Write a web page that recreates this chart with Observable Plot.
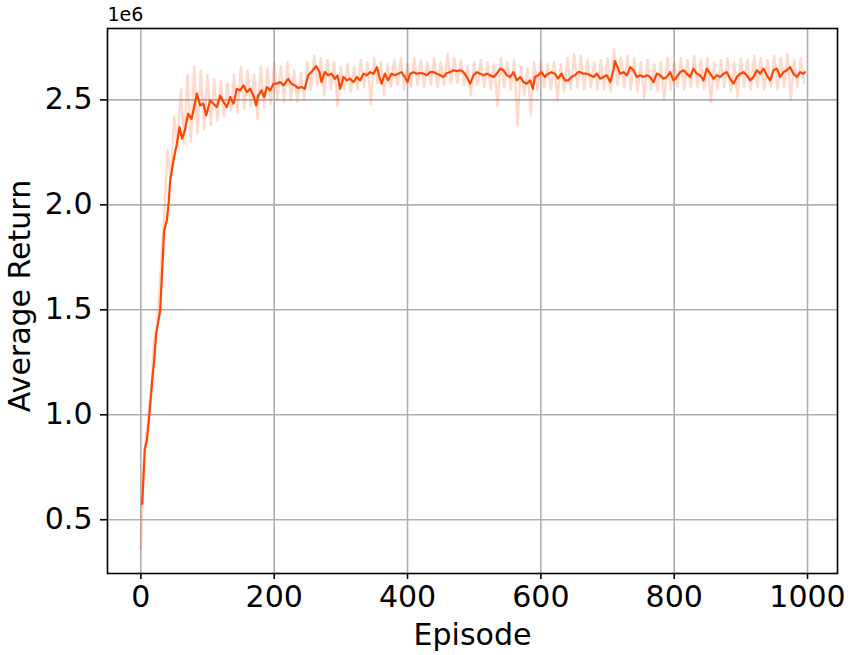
<!DOCTYPE html>
<html>
<head>
<meta charset="utf-8">
<script src="https://cdn.jsdelivr.net/npm/d3@7"></script>
<script src="https://cdn.jsdelivr.net/npm/@observablehq/plot@0.6"></script>
<style>
  html, body { margin: 0; padding: 0; background: white; }
  #chart svg { display: block; }
</style>
</head>
<body>
<div id="chart"></div>
<script>
// Tick values
const xTicks = [0, 200, 400, 600, 800, 1000];
const yTicks = [0.5, 1.0, 1.5, 2.0, 2.5];

// Smoothed average return (in units of 1e6)
const smoothEp = [2,6,9,12,15,17,20,23,29,32,35,39,42,44,49,54,58,62,66,71,76,79,84,89,94,98,104,109,114,119,124,129,134,139,144,149,154,159,164,169,173,176,181,185,189,194,199,204,209,214,221,226,231,236,241,246,251,256,263,268,271,276,281,286,291,295,299,304,309,314,319,324,329,334,339,344,349,354,358,361,366,371,376,381,386,391,396,400,404,409,414,419,424,429,434,439,444,449,454,459,464,469,474,479,484,489,494,499,504,509,514,519,524,529,534,539,544,549,554,559,564,569,574,579,584,588,591,596,601,606,611,616,621,626,631,636,641,646,651,656,659,664,669,674,679,684,689,694,699,704,709,711,715,719,724,729,734,739,744,749,754,759,764,769,774,779,784,789,794,799,804,809,814,819,824,829,834,839,844,849,854,859,864,869,874,879,884,889,894,899,904,909,914,919,924,929,934,939,944,949,954,959,964,969,974,979,984,989,994,996];
const smoothVal = [0.575,0.837,0.877,0.972,1.083,1.163,1.258,1.386,1.497,1.688,1.878,1.926,2.02,2.116,2.212,2.291,2.37,2.315,2.355,2.434,2.41,2.45,2.53,2.474,2.482,2.426,2.497,2.482,2.466,2.52,2.49,2.466,2.513,2.482,2.553,2.545,2.569,2.537,2.553,2.52,2.474,2.52,2.545,2.513,2.561,2.545,2.577,2.577,2.585,2.569,2.6,2.577,2.569,2.556,2.561,2.553,2.617,2.633,2.661,2.633,2.585,2.633,2.617,2.625,2.6,2.617,2.553,2.609,2.593,2.601,2.585,2.609,2.593,2.625,2.617,2.632,2.625,2.656,2.609,2.577,2.625,2.593,2.625,2.617,2.625,2.632,2.609,2.585,2.625,2.632,2.625,2.628,2.625,2.617,2.632,2.632,2.625,2.617,2.609,2.628,2.632,2.641,2.637,2.641,2.632,2.609,2.577,2.617,2.632,2.625,2.617,2.625,2.617,2.609,2.625,2.649,2.641,2.617,2.609,2.632,2.593,2.609,2.585,2.577,2.593,2.553,2.609,2.617,2.632,2.609,2.625,2.632,2.625,2.601,2.625,2.593,2.593,2.609,2.617,2.632,2.632,2.625,2.625,2.617,2.609,2.625,2.601,2.609,2.617,2.585,2.641,2.685,2.656,2.625,2.632,2.617,2.656,2.641,2.609,2.617,2.609,2.617,2.609,2.585,2.625,2.617,2.601,2.609,2.632,2.593,2.609,2.632,2.641,2.625,2.609,2.649,2.625,2.617,2.593,2.649,2.625,2.601,2.617,2.609,2.625,2.632,2.601,2.577,2.609,2.625,2.632,2.617,2.593,2.609,2.641,2.625,2.649,2.617,2.593,2.641,2.649,2.609,2.632,2.641,2.656,2.625,2.609,2.632,2.625,2.632];

// Raw (unsmoothed) return, read as alternating highs and lows of the light band
const rawEp = [0,5,10,15,20,25,30,35,40,45,50,55,60,65,70,75,80,85,90,95,100,105,110,115,120,125,130,135,140,145,150,155,160,165,170,175,180,185,190,195,200,205,210,215,220,225,230,235,240,245,250,255,260,265,270,275,280,285,290,295,300,305,310,315,320,325,330,335,340,345,350,355,360,365,370,375,380,385,390,395,400,405,410,415,420,425,430,435,440,445,450,455,460,465,470,475,480,485,490,495,500,505,510,515,520,525,530,535,540,545,550,555,560,565,570,575,580,585,590,595,600,605,610,615,620,625,630,635,640,645,650,655,660,665,670,675,680,685,690,695,700,705,710,715,720,725,730,735,740,745,750,755,760,765,770,775,780,785,790,795,800,805,810,815,820,825,830,835,840,845,850,855,860,865,870,875,880,885,890,895,900,905,910,915,920,925,930,935,940,945,950,955,960,965,970,975,980,985,990,995];
const rawVal = [0.36,0.82,0.96,1.10,1.36,1.45,1.70,1.95,2.26,2.12,2.42,2.28,2.55,2.29,2.62,2.30,2.66,2.34,2.64,2.36,2.62,2.38,2.60,2.40,2.59,2.42,2.58,2.45,2.62,2.44,2.66,2.46,2.64,2.47,2.62,2.41,2.66,2.46,2.65,2.48,2.68,2.50,2.66,2.49,2.68,2.50,2.64,2.49,2.63,2.50,2.68,2.55,2.71,2.57,2.70,2.52,2.69,2.55,2.68,2.47,2.66,2.55,2.67,2.54,2.66,2.55,2.69,2.56,2.68,2.48,2.70,2.58,2.68,2.52,2.67,2.56,2.69,2.57,2.70,2.55,2.67,2.56,2.70,2.57,2.69,2.56,2.68,2.57,2.70,2.56,2.68,2.57,2.72,2.58,2.70,2.58,2.69,2.57,2.66,2.52,2.68,2.57,2.69,2.56,2.68,2.55,2.67,2.47,2.70,2.56,2.68,2.55,2.69,2.38,2.66,2.52,2.65,2.43,2.68,2.55,2.69,2.56,2.67,2.55,2.68,2.50,2.67,2.54,2.70,2.55,2.72,2.56,2.71,2.55,2.69,2.56,2.68,2.55,2.69,2.55,2.70,2.54,2.74,2.57,2.70,2.56,2.71,2.55,2.70,2.54,2.68,2.51,2.69,2.55,2.67,2.54,2.68,2.50,2.70,2.55,2.68,2.56,2.70,2.55,2.69,2.56,2.71,2.56,2.69,2.55,2.70,2.49,2.68,2.55,2.69,2.56,2.70,2.54,2.68,2.51,2.70,2.56,2.69,2.55,2.71,2.56,2.70,2.55,2.69,2.56,2.71,2.55,2.70,2.56,2.72,2.50,2.69,2.56,2.70,2.58];

const smooth = smoothEp.map((e, i) => ({ep: e, v: smoothVal[i]}));
const raw = rawEp.map((e, i) => ({ep: e, v: rawVal[i]}));

const lineColor = "#ff4500";
const font = "DejaVu Sans";

const chart = Plot.plot({
  width: 850,
  height: 655,
  marginLeft: 107,
  marginRight: 13,
  marginTop: 28,
  marginBottom: 82,
  style: {fontFamily: font, fontSize: "30px", color: "black", background: "white"},
  x: {domain: [-50, 1045]},
  y: {domain: [0.244, 2.84]},
  marks: [
    Plot.gridX(xTicks, {stroke: "#b0b0b0", strokeOpacity: 1, strokeWidth: 1.6}),
    Plot.gridY(yTicks, {stroke: "#b0b0b0", strokeOpacity: 1, strokeWidth: 1.6}),
    Plot.line(raw, {x: "ep", y: "v", stroke: lineColor, strokeOpacity: 0.2, strokeWidth: 2.4}),
    Plot.line(smooth, {x: "ep", y: "v", stroke: lineColor, strokeWidth: 2.2}),
    Plot.frame({stroke: "black", strokeWidth: 1.6}),
    Plot.axisX(xTicks, {tickSize: 6, tickPadding: 6, strokeWidth: 1.6, fontSize: 30, label: null, tickFormat: d => String(d)}),
    Plot.axisY(yTicks, {tickSize: 7, tickPadding: 8, strokeWidth: 1.6, fontSize: 30, label: null, tickFormat: d => d.toFixed(1)}),
    Plot.text(["Episode"], {text: d => d, frameAnchor: "bottom", textAnchor: "middle", lineAnchor: "top", dy: 50, fontSize: 30}),
    Plot.text(["Average Return"], {text: d => d, frameAnchor: "left", textAnchor: "middle", lineAnchor: "middle", rotate: -90, dx: -87, dy: -5, fontSize: 30}),
    Plot.text(["1e6"], {text: d => d, frameAnchor: "top-left", textAnchor: "start", lineAnchor: "bottom", dy: -8, fontSize: 19})
  ]
});
document.getElementById("chart").appendChild(chart);
</script>
</body>
</html>
